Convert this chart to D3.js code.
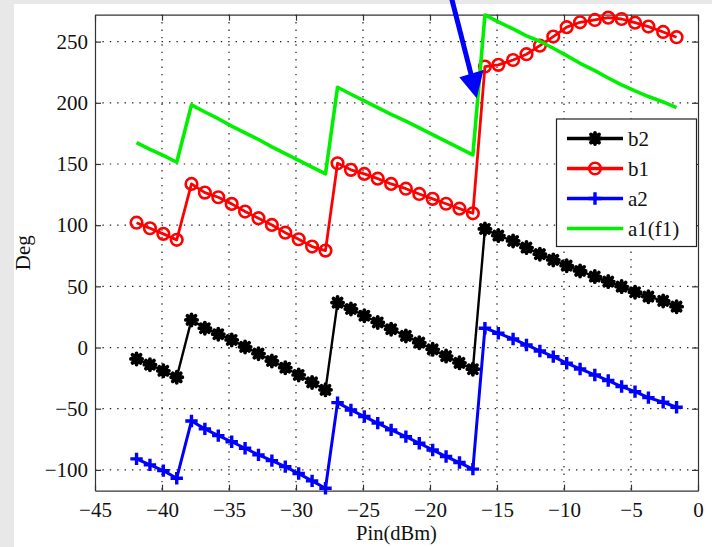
<!DOCTYPE html>
<html>
<head>
<meta charset="utf-8">
<script src="https://cdn.jsdelivr.net/npm/d3@7"></script>
<style>
  html, body { margin: 0; padding: 0; background: #e8e8e8; }
  svg { display: block; }
  text { font-family: "Liberation Serif", "Times New Roman", serif; }
</style>
</head>
<body>
<svg id="chart" width="712" height="547"></svg>
<script>
// Input power sweep (dBm)
const pin = [-41.9, -40.9, -39.9, -38.9,
  -37.8, -36.8, -35.8, -34.8, -33.8, -32.8, -31.8, -30.8, -29.8, -28.8, -27.8,
  -26.9, -25.9, -24.9, -23.9, -22.9, -21.8, -20.8, -19.8, -18.8, -17.8, -16.8,
  -15.9, -14.9, -13.8, -12.8, -11.8, -10.8, -9.8, -8.8, -7.7, -6.7, -5.7, -4.7, -3.7, -2.6, -1.6];

// Phase of each wave (deg)
const b2 = [-9.3, -14, -19, -24.3,
  22.6, 15.8, 10.9, 6.2, 0.5, -5, -11, -16.5, -22.4, -28.5, -34.6,
  36.7, 31.5, 26, 20.5, 15, 9.5, 4, -1.5, -7, -12.5, -17.7,
  96.9, 91.5, 87.1, 81.7, 76.3, 71.6, 66.9, 62.6, 58, 53.9, 49.8, 45.2, 41.6, 38.1, 33.4];

const b1 = [102, 97.5, 92.9, 88,
  133.7, 126.6, 122.8, 117.4, 111.1, 105.7, 100.2, 93.9, 88.5, 82.5, 79.2,
  150.6, 145.2, 141.9, 138.0, 133.7, 129.8, 125.5, 121.5, 117.5, 113.5, 109.7,
  229.6, 231.0, 235.0, 239.7, 246.7, 254.1, 261.8, 265.8, 267.7, 269.6, 268.5, 265.5, 262.3, 257.9, 253.6];

const a2 = [-91, -95.9, -100.6, -106.8,
  -60, -66.5, -72, -77, -82.3, -87.7, -92.4, -97.3, -103, -109, -115,
  -45, -51, -56.4, -61.8, -67.3, -72.8, -78.2, -83.7, -89.1, -94, -99.4,
  15.8, 11.7, 7, 2.1, -2.8, -7.4, -12.8, -17.5, -22.4, -27, -31.9, -36, -40.9, -44.7, -48.8];

const a1 = [167.5, 162, 157, 151.4,
  198.3, 192.5, 187, 181, 175.5, 170, 164, 158.5, 153, 147.5, 141.9,
  212.7, 207, 201.5, 196, 190.5, 185, 179.5, 174, 168.5, 163, 157.4,
  271.8, 266.1, 260.4, 254.7, 250.3, 244.6, 238.6, 232.3, 226.3, 220.3, 214.6, 209.7, 205.1, 200.7, 196.1];

const xTicks = [-45, -40, -35, -30, -25, -20, -15, -10, -5, 0];
const yTicks = [-100, -50, 0, 50, 100, 150, 200, 250];
const seriesNames = ["b2", "b1", "a2", "a1(f1)"];

const svg = d3.select("#chart");
const W = 712, H = 547;
const plot = { left: 95, right: 698, top: 14.7, bottom: 490.7 };
const FONT = 21;

// figure background
svg.append("rect").attr("x", 14).attr("y", 4).attr("width", W - 14).attr("height", H - 4).attr("fill", "#ffffff");

const x = d3.scaleLinear().domain([-45, 0]).range([plot.left, plot.right]);
const y = d3.scaleLinear().domain([-117, 272]).range([plot.bottom, plot.top]);

// dotted grid
const grid = svg.append("g").attr("stroke", "#222").attr("stroke-width", 1.2).attr("stroke-dasharray", "1.4,6");
grid.selectAll(".gx").data(xTicks.slice(1, -1)).join("line")
  .attr("x1", d => x(d)).attr("x2", d => x(d)).attr("y1", plot.top).attr("y2", plot.bottom);
grid.selectAll(".gy").data(yTicks).join("line")
  .attr("y1", d => y(d)).attr("y2", d => y(d)).attr("x1", plot.left).attr("x2", plot.right);

// axes (ticks pointing inward, box on)
const fmt = d3.format("d");
const axB = svg.append("g").attr("transform", `translate(0,${plot.bottom})`)
  .call(d3.axisBottom(x).tickValues(xTicks).tickFormat(fmt).tickSizeInner(-6).tickSizeOuter(0).tickPadding(11));
const axL = svg.append("g").attr("transform", `translate(${plot.left},0)`)
  .call(d3.axisLeft(y).tickValues(yTicks).tickFormat(fmt).tickSizeInner(-6).tickSizeOuter(0).tickPadding(7));
const axT = svg.append("g").attr("transform", `translate(0,${plot.top})`)
  .call(d3.axisTop(x).tickValues(xTicks).tickFormat("").tickSizeInner(-6).tickSizeOuter(0));
const axR = svg.append("g").attr("transform", `translate(${plot.right},0)`)
  .call(d3.axisRight(y).tickValues(yTicks).tickFormat("").tickSizeInner(-6).tickSizeOuter(0));
[axB, axL, axT, axR].forEach(a => {
  a.select(".domain").attr("stroke", "#333").attr("stroke-width", 1.2);
  a.selectAll(".tick line").attr("stroke", "#333").attr("stroke-width", 1.2);
  a.selectAll("text").attr("font-family", "Liberation Serif, Times New Roman, serif")
    .attr("font-size", FONT).attr("fill", "#111");
});

// axis titles
svg.append("text").attr("x", (plot.left + plot.right) / 2).attr("y", 540)
  .attr("text-anchor", "middle").attr("font-size", 20.5).attr("fill", "#111").text("Pin(dBm)");
svg.append("text").attr("transform", `translate(30,${(plot.top + plot.bottom) / 2}) rotate(-90)`)
  .attr("text-anchor", "middle").attr("font-size", FONT).attr("fill", "#111").text("Deg");

// marker shapes
function drawMarker(g, type, cx, cy, color) {
  if (type === "star") {
    const r = 5.6, d = r * 0.72;
    g.append("path").attr("d",
      `M${cx - r},${cy}L${cx + r},${cy}M${cx},${cy - r}L${cx},${cy + r}` +
      `M${cx - d},${cy - d}L${cx + d},${cy + d}M${cx - d},${cy + d}L${cx + d},${cy - d}`)
      .attr("stroke", color).attr("stroke-width", 3.8).attr("fill", "none").attr("stroke-linecap", "round");
  } else if (type === "circle") {
    g.append("circle").attr("cx", cx).attr("cy", cy).attr("r", 5.8)
      .attr("fill", "none").attr("stroke", color).attr("stroke-width", 2.6);
  } else if (type === "plus") {
    const r = 6.2;
    g.append("path").attr("d", `M${cx - r},${cy}L${cx + r},${cy}M${cx},${cy - r}L${cx},${cy + r}`)
      .attr("stroke", color).attr("stroke-width", 3.4).attr("fill", "none");
  }
}

const series = [
  { name: seriesNames[0], values: b2, color: "#000000", width: 2.4, marker: "star" },
  { name: seriesNames[1], values: b1, color: "#ff0000", width: 2.8, marker: "circle" },
  { name: seriesNames[2], values: a2, color: "#0000ff", width: 3.0, marker: "plus" },
  { name: seriesNames[3], values: a1, color: "#00f000", width: 3.6, marker: null }
];

const line = d3.line().x(d => x(d[0])).y(d => y(d[1]));
series.forEach(s => {
  const pts = pin.map((p, i) => [p, s.values[i]]);
  const g = svg.append("g");
  g.append("path").attr("d", line(pts)).attr("fill", "none")
    .attr("stroke", s.color).attr("stroke-width", s.width).attr("stroke-linejoin", "round");
  if (s.marker) pts.forEach(p => drawMarker(g, s.marker, x(p[0]), y(p[1]), s.color));
});

// legend
const lg = svg.append("g");
lg.append("rect").attr("x", 556.5).attr("y", 119).attr("width", 140).attr("height", 127.5)
  .attr("fill", "#fff").attr("stroke", "#222").attr("stroke-width", 1.2);
series.forEach((s, i) => {
  const cy = 138.5 + i * 30;
  lg.append("line").attr("x1", 567).attr("x2", 623).attr("y1", cy).attr("y2", cy)
    .attr("stroke", s.color).attr("stroke-width", 3.4);
  if (s.marker) drawMarker(lg, s.marker, 595, cy, s.color);
  lg.append("text").attr("x", 628).attr("y", cy).attr("dy", "0.35em")
    .attr("font-size", FONT).attr("fill", "#111").text(s.name);
});

// annotation arrow
const ar = svg.append("g").attr("fill", "#0000ff").attr("stroke", "none");
ar.append("line").attr("x1", 451.5).attr("y1", -2).attr("x2", 471.5).attr("y2", 76)
  .attr("stroke", "#0000ff").attr("stroke-width", 5);
ar.append("path").attr("d", "M459.3,77.3L483.5,70L476.7,98.3Z");
</script>
</body>
</html>
